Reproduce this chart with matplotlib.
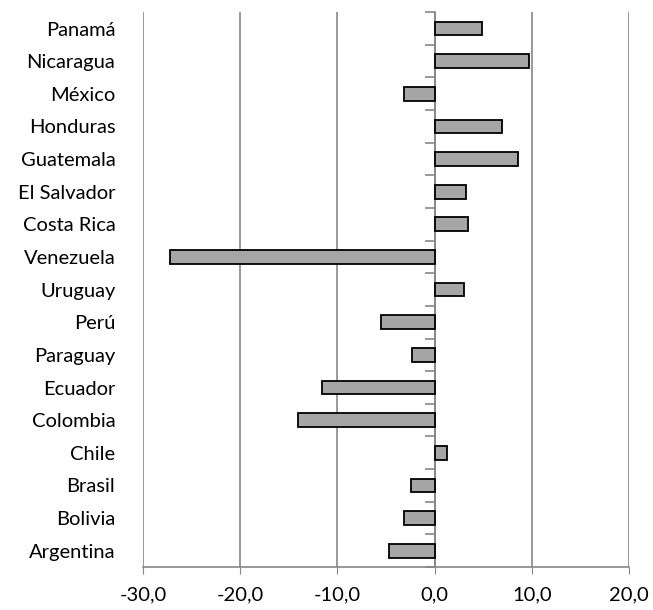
import numpy as np
import matplotlib.pyplot as plt
import matplotlib.transforms as mtransforms
from matplotlib.ticker import FuncFormatter

# Data (bottom to top, as drawn)
paises = ['Argentina', 'Bolivia', 'Brasil', 'Chile', 'Colombia', 'Ecuador',
          'Paraguay', 'Perú', 'Uruguay', 'Venezuela', 'Costa Rica',
          'El Salvador', 'Guatemala', 'Honduras', 'México', 'Nicaragua', 'Panamá']
valores = [-4.7, -3.1, -2.4, 1.3, -14.1, -11.6,
           -2.3, -5.5, 3.0, -27.2, 3.4,
           3.2, 8.6, 6.9, -3.1, 9.7, 4.9]
x_ticks = [-30, -20, -10, 0, 10, 20]

plt.rcParams['font.family'] = ['Lato', 'DejaVu Sans']

fig = plt.figure(figsize=(6.53, 6.1), dpi=100)
ax = fig.add_axes([0.219, 0.0705, 0.744, 0.9095])

y = np.arange(len(paises))
ax.barh(y, valores, height=0.42, color='#a6a6a6', edgecolor='black', linewidth=1.3, zorder=3)

ax.set_xlim(-30, 20)
ax.set_ylim(-0.5, len(paises) - 0.5)
ax.set_xticks(x_ticks)
ax.xaxis.set_major_formatter(FuncFormatter(lambda v, p: f'{v:.1f}'.replace('.', ',')))
ax.grid(axis='x', color='#878787', linewidth=1.2, zorder=0)
ax.tick_params(axis='x', length=5, color='#878787', labelsize=14.5, pad=9)

for s in ['top', 'right']:
    ax.spines[s].set_visible(False)
ax.spines['bottom'].set_color('#878787')
ax.spines['bottom'].set_linewidth(1.2)

# vertical axis at zero, ticks between categories pointing left
ax.spines['left'].set_position(('data', 0))
ax.spines['left'].set_color('#878787')
ax.spines['left'].set_linewidth(1.2)
ax.set_yticks(np.arange(len(paises) + 1) - 0.5)
ax.set_yticklabels([])
ax.tick_params(axis='y', length=7, color='#878787', width=1.2, direction='out')

# category labels at the left edge of the plot
trans = mtransforms.blended_transform_factory(ax.transAxes, ax.transData)
for yi, nombre in zip(y, paises):
    ax.text(-0.057, yi, nombre, transform=trans, ha='right', va='center_baseline', fontsize=14.5)

fig.savefig('out.png', dpi=100)
